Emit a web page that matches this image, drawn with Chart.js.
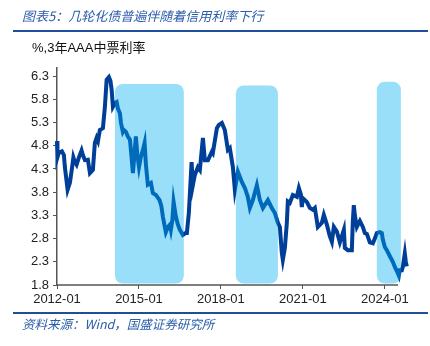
<!DOCTYPE html>
<html>
<head>
<meta charset="utf-8">
<script src="https://cdn.jsdelivr.net/npm/chart.js@4/dist/chart.umd.min.js"></script>
<style>
    html, body { margin: 0; padding: 0; background: #fff; }
    #wrap { position: relative; width: 430px; height: 346px; overflow: hidden; }
    #chart { position: absolute; left: 0; top: 0; }
    .title {
        position: absolute; left: 22px; top: 6px;
        font: italic 13px "Noto Sans CJK SC", sans-serif; color: #2a5caa;
        white-space: nowrap;
    }
    .rule { position: absolute; left: 13px; width: 415px; height: 2px; background: #1f4f9c; }
    .unit {
        position: absolute; left: 32px; top: 37px;
        font: 13px "Liberation Sans", "Noto Sans CJK SC", sans-serif; color: #111;
        white-space: nowrap;
    }
    .source {
        position: absolute; left: 22px; top: 314px;
        font: italic 12.5px "Noto Sans CJK SC", sans-serif; color: #2a5caa;
        white-space: nowrap;
    }
</style>
</head>
<body>
<div id="wrap">
    <canvas id="chart" width="430" height="346"></canvas>
    <div class="title">图表5：几轮化债普遍伴随着信用利率下行</div>
    <div class="rule" style="top:30px"></div>
    <div class="unit">%,3年AAA中票利率</div>
    <div class="rule" style="top:312px"></div>
    <div class="source">资料来源：Wind，国盛证券研究所</div>
</div>
<script>
// 3年AAA中票利率 (%)
const dates = [
    "2012-01-01", "2012-01-07", "2012-01-26", "2012-03-06", "2012-04-02", "2012-04-15", "2012-05-21", "2012-06-21",
    "2012-07-17", "2012-08-07", "2012-08-27", "2012-09-19", "2012-10-20", "2012-11-25", "2012-12-12", "2013-01-09",
    "2013-02-18", "2013-03-15", "2013-04-24", "2013-05-20", "2013-06-13", "2013-07-01", "2013-07-26", "2013-09-06",
    "2013-10-02", "2013-10-25", "2013-11-25", "2013-12-15", "2014-01-01", "2014-01-18", "2014-02-14", "2014-03-07",
    "2014-03-24", "2014-04-20", "2014-05-03", "2014-05-29", "2014-06-12", "2014-07-09", "2014-08-05", "2014-09-02",
    "2014-09-21", "2014-10-11", "2014-11-01", "2014-11-20", "2014-12-10", "2015-01-01", "2015-01-26", "2015-02-22",
    "2015-03-15", "2015-04-02", "2015-04-28", "2015-06-08", "2015-07-04", "2015-08-14", "2015-10-02", "2015-10-26",
    "2015-11-16", "2015-12-25", "2016-01-22", "2016-02-18", "2016-03-01", "2016-03-21", "2016-04-07", "2016-05-07",
    "2016-06-04", "2016-06-30", "2016-08-09", "2016-09-15", "2016-10-02", "2016-10-28", "2016-12-04", "2016-12-21",
    "2017-01-17", "2017-02-27", "2017-03-23", "2017-05-03", "2017-05-29", "2017-07-09", "2017-09-01", "2017-09-14",
    "2017-11-07", "2017-12-03", "2018-01-13", "2018-02-22", "2018-04-02", "2018-04-28", "2018-06-08", "2018-07-04",
    "2018-08-14", "2018-10-06", "2018-11-16", "2018-12-25", "2019-01-22", "2019-03-01", "2019-04-24", "2019-06-03",
    "2019-07-13", "2019-09-19", "2019-11-11", "2019-12-21", "2020-02-01", "2020-02-27", "2020-03-23", "2020-04-06",
    "2020-05-03", "2020-05-29", "2020-06-12", "2020-07-08", "2020-08-18", "2020-10-11", "2020-11-07", "2020-12-03",
    "2020-12-16", "2020-12-30", "2021-02-22", "2021-04-02", "2021-05-11", "2021-06-08", "2021-07-17", "2021-09-10",
    "2021-10-06", "2021-11-16", "2021-12-25", "2022-01-22", "2022-02-18", "2022-03-28", "2022-05-07", "2022-06-03",
    "2022-06-30", "2022-07-13", "2022-08-22", "2022-10-15", "2022-10-28", "2022-11-11", "2022-11-25", "2022-12-21",
    "2023-02-01", "2023-03-10", "2023-04-06", "2023-05-03", "2023-06-12", "2023-07-22", "2023-08-18", "2023-09-14",
    "2023-10-24", "2023-11-20", "2023-12-03", "2023-12-30", "2024-01-26", "2024-03-06", "2024-04-15", "2024-05-11",
    "2024-06-08", "2024-07-04", "2024-07-17", "2024-08-14", "2024-08-27", "2024-09-23", "2024-10-06", "2024-10-19"
];
const rates = [
    4.90, 4.55, 4.65, 4.68, 4.60, 4.34, 3.85, 4.00,
    4.30, 4.55, 4.45, 4.39, 4.55, 4.70, 4.60, 4.49,
    4.50, 4.21, 4.28, 4.86, 4.97, 4.90, 5.14, 5.18,
    5.64, 6.22, 6.28, 6.20, 6.00, 5.64, 5.72, 5.74,
    5.60, 5.50, 5.30, 5.10, 5.14, 5.10, 5.00, 4.93,
    4.60, 4.21, 4.60, 5.00, 4.60, 4.34, 4.56, 4.70,
    4.86, 4.40, 3.96, 4.00, 3.78, 3.74, 3.63, 3.50,
    3.27, 2.94, 3.05, 3.10, 2.99, 3.20, 3.59, 3.27,
    3.10, 2.99, 2.88, 2.92, 2.92, 3.35, 4.45, 3.95,
    4.17, 4.34, 4.28, 4.97, 4.49, 4.49, 4.67, 4.64,
    5.18, 5.25, 5.29, 5.14, 4.71, 4.75, 4.34, 3.85,
    4.24, 4.02, 3.89, 3.70, 3.46, 3.63, 3.95, 3.63,
    3.46, 3.63, 3.46, 3.35, 3.14, 3.05, 2.49, 2.34,
    2.60, 3.14, 3.60, 3.57, 3.74, 3.70, 3.89, 3.75,
    3.48, 3.67, 3.59, 3.46, 3.42, 3.46, 3.05, 3.14,
    3.31, 3.10, 2.85, 2.73, 3.05, 2.95, 2.72, 2.85,
    2.99, 2.60, 2.55, 2.55, 3.16, 3.52, 3.30, 3.05,
    3.18, 3.05, 2.92, 2.90, 2.72, 2.70, 2.80, 2.92,
    2.94, 2.92, 2.78, 2.62, 2.55, 2.42, 2.30, 2.19,
    2.10, 2.00, 2.12, 2.12, 2.19, 2.48, 2.30, 2.20
];

// 化债阶段（阴影区间）
const shadeStart = ["2014-02-14", "2018-07-17", "2023-09-14"];
const shadeEnd = ["2016-08-22", "2020-02-01", "2024-08-01"];
const shadeTop = [6.13, 6.10, 6.18];
const shadeBottom = 1.83;

const yTicks = [1.8, 2.3, 2.8, 3.3, 3.8, 4.3, 4.8, 5.3, 5.8, 6.3];
const xTickLabels = ["2012-01", "2015-01", "2018-01", "2021-01", "2024-01"];
const xAxisEnd = 2024.48;

function toYear(s) {
    const [y, m, d] = s.split("-").map(Number);
    return y + (m - 1) / 12 + ((d || 1) - 1) / 365;
}

const points = dates.map((d, i) => ({ x: toYear(d), y: rates[i] }));

const axisColor = "#555";
const tickFont = { family: "Liberation Sans", size: 13 };

// bottom axis line stops short of the last data points
const axisLinePlugin = {
    id: "xAxisLine",
    beforeDatasetsDraw(chart) {
        const { ctx, chartArea, scales: { x } } = chart;
        ctx.save();
        ctx.strokeStyle = axisColor;
        ctx.lineWidth = 1.5;
        ctx.beginPath();
        ctx.moveTo(chartArea.left, chartArea.bottom);
        ctx.lineTo(x.getPixelForValue(xAxisEnd), chartArea.bottom);
        ctx.stroke();
        ctx.restore();
    }
};

const shadePlugin = {
    id: "shades",
    afterDatasetsDraw(chart) {
        const { ctx, scales: { x, y } } = chart;
        ctx.save();
        ctx.fillStyle = "rgba(0,176,240,0.4)";
        shadeStart.forEach((s, i) => {
            const x0 = x.getPixelForValue(toYear(s));
            const x1 = x.getPixelForValue(toYear(shadeEnd[i]));
            const y0 = y.getPixelForValue(shadeTop[i]);
            const y1 = y.getPixelForValue(shadeBottom);
            ctx.beginPath();
            ctx.roundRect(x0, y0, x1 - x0, y1 - y0, 8);
            ctx.fill();
        });
        ctx.restore();
    }
};

new Chart(document.getElementById("chart"), {
    type: "line",
    data: {
        datasets: [{
            data: points,
            borderColor: "#003f98",
            borderWidth: 4,
            pointRadius: 0,
            tension: 0,
            clip: false
        }]
    },
    options: {
        responsive: false,
        animation: false,
        layout: { padding: { left: 0, top: 68, right: 21, bottom: 34 } },
        plugins: { legend: { display: false }, tooltip: { enabled: false } },
        scales: {
            x: {
                type: "linear",
                min: 2012,
                max: 2024.88,
                afterBuildTicks(scale) {
                    scale.ticks = xTickLabels.map(t => ({ value: toYear(t + "-01") }));
                },
                afterFit(scale) { scale.height = 27; },
                ticks: {
                    color: "#222",
                    font: tickFont,
                    maxRotation: 0,
                    padding: 3,
                    callback: (v, i) => xTickLabels[i]
                },
                grid: { drawOnChartArea: false, drawTicks: true, tickLength: 4, color: axisColor },
                border: { display: false }
            },
            y: {
                min: 1.8,
                max: 6.475,
                afterBuildTicks(scale) {
                    scale.ticks = yTicks.map(v => ({ value: v }));
                },
                afterFit(scale) { scale.width = 57; },
                ticks: {
                    color: "#222",
                    font: tickFont,
                    padding: 4,
                    callback: v => Number(v).toFixed(1)
                },
                grid: { drawOnChartArea: false, drawTicks: true, tickLength: 4, color: axisColor },
                border: { color: axisColor, width: 1.5 }
            }
        }
    },
    plugins: [axisLinePlugin, shadePlugin]
});
</script>
</body>
</html>
